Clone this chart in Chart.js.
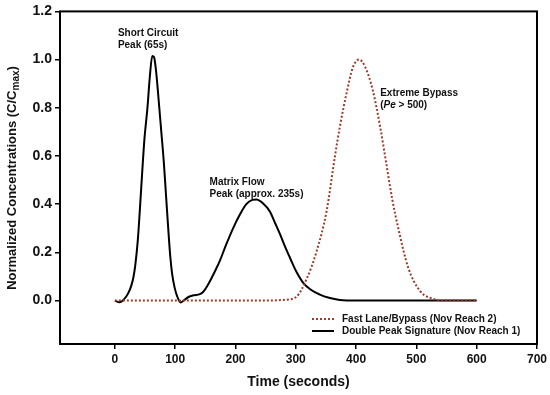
<!DOCTYPE html>
<html>
<head>
<meta charset="utf-8">
<script src="https://cdn.jsdelivr.net/npm/chart.js@4/dist/chart.umd.min.js"></script>
<style>
  html, body { margin: 0; padding: 0; background: #fff; }
  #wrap { width: 550px; height: 395px; }
</style>
</head>
<body>
<div id="wrap"><canvas id="chart" width="550" height="395"></canvas></div>
<script>
// values
const doubleTime = [0, 8, 15, 22, 27, 31, 34, 38, 41, 45, 49, 54, 58, 62, 65, 68, 72, 77, 81, 85, 89, 92, 95, 99, 103, 109, 115, 122, 130, 141, 147, 153, 160, 167, 174, 185, 196, 208, 218, 228, 235, 245, 257, 266, 274, 282, 290, 300, 312, 325, 340, 355, 373, 400, 500, 600];
const doubleConc = [0, -0.007, 0.005, 0.03, 0.06, 0.1, 0.15, 0.25, 0.36, 0.52, 0.67, 0.8, 0.93, 1.015, 1.01, 0.96, 0.85, 0.7, 0.58, 0.43, 0.28, 0.18, 0.11, 0.055, 0.02, -0.008, 0.002, 0.015, 0.022, 0.027, 0.038, 0.06, 0.092, 0.127, 0.165, 0.235, 0.3, 0.36, 0.4, 0.418, 0.42, 0.405, 0.37, 0.32, 0.275, 0.225, 0.18, 0.125, 0.075, 0.045, 0.025, 0.012, 0.003, 0, 0, 0];

const bypassTime = [0, 100, 200, 250, 280, 300, 318, 334, 351, 365, 373, 385, 395, 405, 415, 428, 440, 450, 460, 470, 486, 506, 528, 550, 600];
const bypassConc = [0, 0, 0, 0, 0.003, 0.014, 0.09, 0.2, 0.37, 0.6, 0.72, 0.87, 0.97, 1.0, 0.97, 0.87, 0.72, 0.57, 0.42, 0.3, 0.14, 0.04, 0.007, 0, 0];

const xTicks = [0, 100, 200, 300, 400, 500, 600, 700];
const yTicks = [0, 0.2, 0.4, 0.6, 0.8, 1.0, 1.2];

const seriesNames = ["Fast Lane/Bypass (Nov Reach 2)", "Double Peak Signature (Nov Reach 1)"];

const notes = [
  { x: 5, y: 1.11, lines: [["Short Circuit"], ["Peak (65s)"]] },
  { x: 157, y: 0.492, lines: [["Matrix Flow"], ["Peak (approx. 235s)"]] },
  { x: 440, y: 0.862, lines: [["Extreme Bypass"], ["(", "Pe", " > 500)"]] }
];

const toPoints = (xs, ys) => xs.map((x, i) => ({ x, y: ys[i] }));

const BOLD = "'Liberation Sans', Arial, sans-serif";

const framePlugin = {
  id: "frame",
  afterDraw(chart) {
    const { ctx, chartArea: a, scales } = chart;
    ctx.save();
    ctx.strokeStyle = "#000";
    ctx.lineWidth = 2;
    ctx.strokeRect(a.left, a.top, a.right - a.left, a.bottom - a.top);

    // notes
    ctx.fillStyle = "#111";
    ctx.textBaseline = "middle";
    ctx.textAlign = "left";
    notes.forEach((n) => {
      const px = scales.x.getPixelForValue(n.x);
      let py = scales.y.getPixelForValue(n.y);
      n.lines.forEach((parts) => {
        let cx = px;
        parts.forEach((p) => {
          ctx.font = (p === "Pe" ? "italic bold " : "bold ") + "10px " + BOLD;
          ctx.fillText(p, cx, py);
          cx += ctx.measureText(p).width;
        });
        py += 12;
      });
    });

    // legend
    const ds = chart.data.datasets;
    const rows = [319, 331];
    ctx.font = "bold 10px " + BOLD;
    ds.forEach((d, i) => {
      ctx.beginPath();
      ctx.strokeStyle = d.borderColor;
      ctx.lineWidth = 2;
      ctx.setLineDash(d.borderDash || []);
      ctx.moveTo(312, rows[i]);
      ctx.lineTo(334, rows[i]);
      ctx.stroke();
      ctx.setLineDash([]);
      ctx.fillStyle = "#111";
      ctx.fillText(seriesNames[i], 342, rows[i]);
    });

    // y axis title with subscript
    ctx.translate(12, 178);
    ctx.rotate(-Math.PI / 2);
    const main = "Normalized Concentrations (C/C";
    ctx.font = "bold 13px " + BOLD;
    const w1 = ctx.measureText(main).width;
    ctx.font = "bold 10px " + BOLD;
    const w2 = ctx.measureText("max").width;
    ctx.font = "bold 13px " + BOLD;
    const w3 = ctx.measureText(")").width;
    let sx = -(w1 + w2 + w3) / 2;
    ctx.fillStyle = "#111";
    ctx.fillText(main, sx, 0);
    sx += w1;
    ctx.font = "bold 10px " + BOLD;
    ctx.fillText("max", sx, 4);
    sx += w2;
    ctx.font = "bold 13px " + BOLD;
    ctx.fillText(")", sx, 0);
    ctx.restore();
  }
};

new Chart(document.getElementById("chart"), {
  type: "line",
  data: {
    datasets: [
      {
        label: seriesNames[0],
        data: toPoints(bypassTime, bypassConc),
        borderColor: "#9c3b2a",
        borderWidth: 2,
        borderDash: [2, 2],
        pointRadius: 0,
        tension: 0.4,
        cubicInterpolationMode: "monotone"
      },
      {
        label: seriesNames[1],
        data: toPoints(doubleTime, doubleConc),
        borderColor: "#000",
        borderWidth: 2,
        pointRadius: 0,
        tension: 0.4,
        cubicInterpolationMode: "monotone"
      }
    ]
  },
  options: {
    responsive: false,
    animation: false,
    layout: { padding: { top: 10, right: 12, left: 0, bottom: 0 } },
    plugins: { legend: { display: false }, tooltip: { enabled: false } },
    scales: {
      x: {
        type: "linear",
        min: -91,
        max: 700,
        afterBuildTicks: (s) => { s.ticks = xTicks.map((v) => ({ value: v })); },
        afterFit: (s) => { s.height = 51; },
        grid: { drawOnChartArea: false, tickLength: 5, color: "#000", lineWidth: 1.5 },
        border: { display: false },
        ticks: { color: "#111", font: { family: BOLD, size: 12, weight: "bold" }, padding: 3, maxRotation: 0 },
        title: { display: true, text: "Time (seconds)", color: "#111", font: { family: BOLD, size: 14, weight: "bold" }, padding: { top: 0, bottom: 4 } }
      },
      y: {
        min: -0.18,
        max: 1.2,
        afterBuildTicks: (s) => { s.ticks = yTicks.map((v) => ({ value: v })); },
        afterFit: (s) => { s.width = 60; },
        grid: { drawOnChartArea: false, tickLength: 5, color: "#000", lineWidth: 1.5 },
        border: { display: false },
        ticks: { color: "#111", font: { family: BOLD, size: 14, weight: "bold" }, padding: 3, callback: (v) => Number(v).toFixed(1) }
      }
    }
  },
  plugins: [framePlugin]
});
</script>
</body>
</html>
